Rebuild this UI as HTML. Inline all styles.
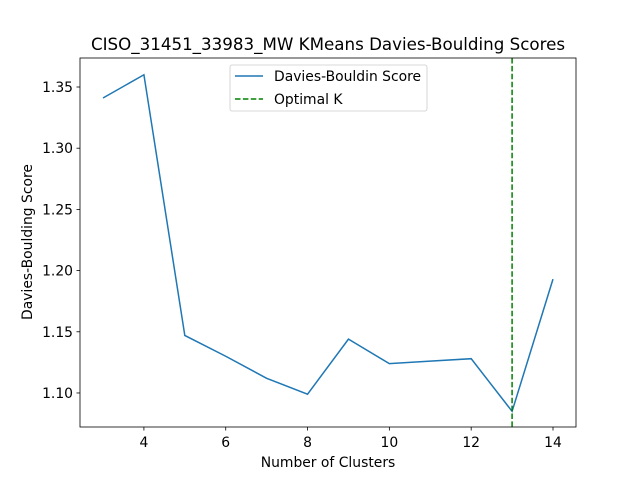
<!DOCTYPE html>
<html><head><meta charset="utf-8"><style>
body{margin:0;background:#fff;font-family:"Liberation Sans","DejaVu Sans",sans-serif}
svg text{font-family:"DejaVu Sans","Liberation Sans",sans-serif;fill:#000}
</style></head><body>
<svg id="c" width="640" height="480"></svg>
<script>
const clusters=[3,4,5,6,7,8,9,10,11,12,13,14];
const scores=[1.341,1.360,1.147,1.130,1.112,1.099,1.144,1.124,1.126,1.128,1.085,1.193];
const xTicks=[4,6,8,10,12,14];
const yTicks=[1.10,1.15,1.20,1.25,1.30,1.35];
const optimalK=[13];
const L=80,R=576,T=58,B=427,xmin=2.4377,xmax=14.5623,ymin=1.0722,ymax=1.3737;
const sx=v=>L+(v-xmin)/(xmax-xmin)*(R-L);
const sy=v=>B-(v-ymin)/(ymax-ymin)*(B-T);
const svg=document.getElementById('c');const NS='http://www.w3.org/2000/svg';
function mk(t,a,p){const e=document.createElementNS(NS,t);for(const k in a)e.setAttribute(k,a[k]);(p||svg).appendChild(e);return e;}
let path=clusters.map((c,i)=>(i?'L':'M')+sx(c)+' '+sy(scores[i])).join(' ');
let ln=mk('path',{d:path,fill:'none',stroke:'#1f77b4','stroke-width':1.5});


let vl=mk('line',{x1:sx(optimalK[0]),x2:sx(optimalK[0]),y1:T,y2:B,stroke:'green','stroke-width':1.5,'stroke-dasharray':'5.5,2.4'});


let fr=mk('rect',{x:L,y:T,width:R-L,height:B-T,fill:'none',stroke:'#000','stroke-width':0.8});


xTicks.forEach(v=>{const x=sx(v);mk('line',{x1:x,x2:x,y1:B,y2:B+3.5,stroke:'#000','stroke-width':0.8});
const t=mk('text',{x:x,y:B+20,'text-anchor':'middle','font-size':13.9});t.textContent=v;

});
yTicks.forEach(v=>{const y=sy(v);mk('line',{x1:L,x2:L-3.5,y1:y,y2:y,stroke:'#000','stroke-width':0.8});
const t=mk('text',{x:L-7,y:y+5,'text-anchor':'end','font-size':13.9});t.textContent=v.toFixed(2);

});
let tt=mk('text',{x:328,y:50,'text-anchor':'middle','font-size':16.7});tt.textContent='CISO_31451_33983_MW KMeans Davies-Boulding Scores';


let xt=mk('text',{x:328,y:467,'text-anchor':'middle','font-size':13.9});xt.textContent='Number of Clusters';


let yt=mk('text',{x:32,y:242,'text-anchor':'middle','font-size':13.9,transform:'rotate(-90 32 242)'});yt.textContent='Davies-Boulding Score';


let lg=mk('g',{});


mk('rect',{x:230,y:65,width:197,height:46,rx:2,fill:'#fff',stroke:'#ccc','stroke-width':0.8},lg);
mk('line',{x1:235,x2:263,y1:76,y2:76,stroke:'#1f77b4','stroke-width':1.5},lg);
let l1=mk('text',{x:274,y:81,'font-size':13.9},lg);l1.textContent='Davies-Bouldin Score';


mk('line',{x1:235,x2:263,y1:99,y2:99,stroke:'green','stroke-width':1.5,'stroke-dasharray':'5.5,2.4'},lg);
let l2=mk('text',{x:274,y:104,'font-size':13.9},lg);l2.textContent='Optimal K';


</script>
</body></html>
